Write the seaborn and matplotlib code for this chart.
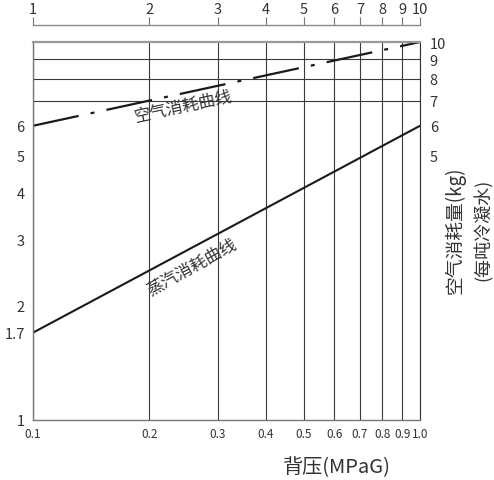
import seaborn as sns
import matplotlib.pyplot as plt

# back pressure (MPaG) and consumption per ton of condensate (kg)
pressure = [0.1, 1.0]
air_use = [6.0, 10.0]
steam_use = [1.7, 6.0]

x_ticks = [0.1, 0.2, 0.3, 0.4, 0.5, 0.6, 0.7, 0.8, 0.9, 1.0]
x_labels = ["0.1", "0.2", "0.3", "0.4", "0.5", "0.6", "0.7", "0.8", "0.9", "1.0"]
top_ticks = [1, 2, 3, 4, 5, 6, 7, 8, 9, 10]
left_ticks = [1, 1.7, 2, 3, 4, 5, 6]
left_labels = ["1", "1.7", "2", "3", "4", "5", "6"]
right_ticks = [5, 6, 7, 8, 9, 10]
grid_levels = [2, 3, 4, 5, 6, 7, 8, 9]

sns.set_style("white")
plt.rcParams['font.family'] = ['Noto Sans CJK SC', 'DejaVu Sans']
plt.rcParams['font.weight'] = 'light'

fig = plt.figure(figsize=(4.94, 4.81), dpi=100)
ax = fig.add_axes([0.0668, 0.1254, 0.7834, 0.7852])

sns.lineplot(x=pressure, y=steam_use, ax=ax, color='#1a1a1a', linewidth=1.5)
sns.lineplot(x=pressure, y=air_use, ax=ax, color='#1a1a1a', linewidth=1.6)
ax.lines[-1].set_dashes([21, 5.5, 1.8, 5.5])

ax.set_xscale('log')
ax.set_yscale('log')
ax.set_xlim(0.1, 1.0)
ax.set_ylim(1, 10)

ax.set_xticks(x_ticks)
ax.set_xticklabels(x_labels)
ax.set_xticks([], minor=True)
ax.set_yticks(left_ticks)
ax.set_yticklabels(left_labels)
ax.set_yticks(grid_levels, minor=True)
ax.yaxis.set_minor_formatter(plt.NullFormatter())

ax.grid(False)
ax.grid(which='major', axis='x', color='#3a3a3a', linewidth=0.8)
ax.grid(which='minor', axis='y', color='#3a3a3a', linewidth=0.8)
ax.tick_params(axis='x', which='both', length=0, pad=5, labelsize=8.5, colors='#333333')
ax.tick_params(axis='y', which='both', length=0, pad=6, labelsize=10.5, colors='#333333')

for side in ['left', 'bottom']:
    ax.spines[side].set_color('#777777')
    ax.spines[side].set_linewidth(1.0)
ax.spines['right'].set_color('#333333')
ax.spines['top'].set_color('#999999')
ax.spines['top'].set_linewidth(1.6)

# right axis with same scale
axr = ax.twinx()
axr.set_yscale('log')
axr.set_ylim(1, 10)
axr.set_yticks(right_ticks)
axr.set_yticklabels([str(v) for v in right_ticks])
axr.set_yticks([], minor=True)
axr.tick_params(axis='y', which='both', length=0, pad=7, labelsize=10.5, colors='#333333')
for s in axr.spines.values():
    s.set_visible(False)

# top axis, offset above the grid
axt = ax.twiny()
axt.set_xscale('log')
axt.set_xlim(1, 10)
axt.set_xticks(top_ticks)
axt.set_xticklabels([str(v) for v in top_ticks])
axt.set_xticks([], minor=True)
axt.tick_params(axis='x', which='both', direction='out', length=6, width=0.8,
                color='#777777', pad=1, labelsize=10.5, labelcolor='#333333')
for side in ['left', 'right', 'bottom']:
    axt.spines[side].set_visible(False)
axt.spines['top'].set_position(('outward', 12))
axt.spines['top'].set_color('#888888')
axt.spines['top'].set_linewidth(1.0)

ax.text(0.245, 6.77, "空气消耗曲线", rotation=12, ha='center', va='center',
        fontsize=12, color='#333333')
ax.text(0.2576, 2.54, "蒸汽消耗曲线", rotation=29, ha='center', va='center',
        fontsize=12, color='#333333')

fig.text(337 / 494, 1 - 468 / 481, "背压(MPaG)", ha='center', va='center',
         fontsize=14.5, color='#333333')
fig.text(455 / 494, 1 - 230 / 481, "空气消耗量(kg)", rotation=90, ha='center',
         va='center', fontsize=13.5, color='#333333')
fig.text(483 / 494, 1 - 230 / 481, "(每吨冷凝水)", rotation=90, ha='center',
         va='center', fontsize=13, color='#333333')

fig.savefig('out.png', dpi=100)
